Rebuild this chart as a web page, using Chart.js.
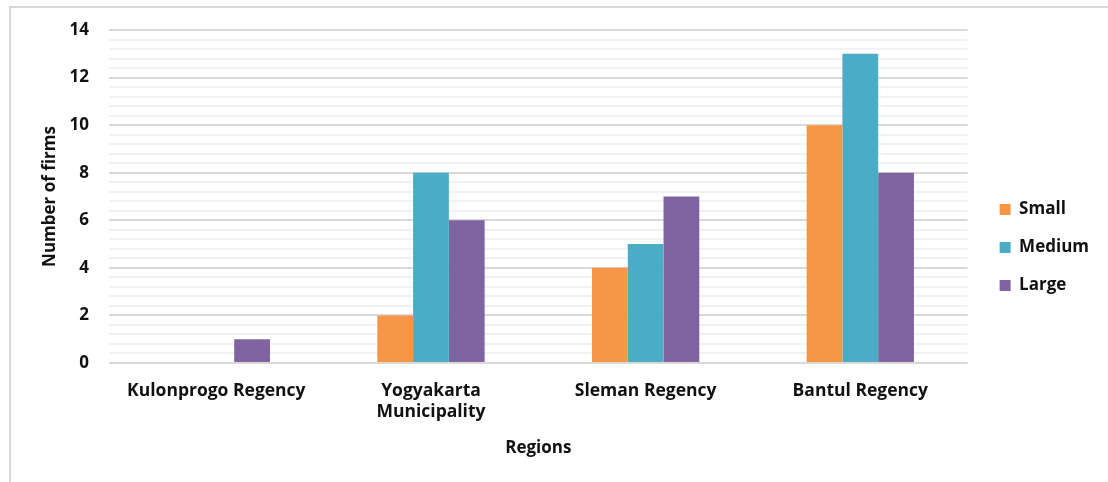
<!DOCTYPE html>
<html>
<head>
<meta charset="utf-8">
<script src="https://cdn.jsdelivr.net/npm/chart.js@4.4.1/dist/chart.umd.min.js"></script>
<style>
  html, body { margin: 0; padding: 0; background: #fff; }
  body { width: 1108px; height: 482px; position: relative; overflow: hidden; }
  #frame {
    position: absolute; left: 9px; top: 6px; width: 1099px; height: 476px;
    border-top: 2px solid #d9d9d9; border-left: 2px solid #d9d9d9;
    box-sizing: border-box;
  }
  #wrap { position: absolute; left: 11px; top: 8px; width: 1097px; height: 474px; }
</style>
</head>
<body>
<div id="frame"></div>
<div id="wrap"><canvas id="firmChart"></canvas></div>
<script>
/* ===== firms by region and size ===== */
const regions = ['Kulonprogo Regency', ['Yogyakarta', 'Municipality'], 'Sleman Regency', 'Bantul Regency'];
const smallFirms = [0, 2, 4, 10];
const mediumFirms = [0, 8, 5, 13];
const largeFirms = [1, 6, 7, 8];

const FONT = 'Open Sans';
const isMajor = v => Math.abs(v / 2 - Math.round(v / 2)) < 1e-6;

Chart.defaults.font.family = FONT;
Chart.defaults.color = '#111';

new Chart(document.getElementById('firmChart').getContext('2d'), {
  type: 'bar',
  data: {
    labels: regions,
    datasets: [
      { label: 'Small', data: smallFirms, backgroundColor: '#F79646' },
      { label: 'Medium', data: mediumFirms, backgroundColor: '#4BACC6' },
      { label: 'Large', data: largeFirms, backgroundColor: '#8064A2' }
    ]
  },
  options: {
    responsive: true,
    maintainAspectRatio: false,
    animation: false,
    categoryPercentage: 0.5,
    barPercentage: 1,
    layout: { padding: { left: 29, right: 9, top: 22, bottom: 20 } },
    plugins: {
      legend: {
        position: 'right',
        align: 'center',
        // tiny empty title, nudges the items slightly down
        title: { display: true, text: ' ', font: { size: 1 }, padding: 1 },
        labels: {
          boxWidth: 11,
          boxHeight: 11,
          padding: 21,
          font: { size: 17, weight: 'bold' }
        }
      },
      tooltip: { enabled: false }
    },
    scales: {
      x: {
        grid: { display: false },
        border: { display: false },
        ticks: { padding: 10, font: { size: 17.5, weight: 'bold' } },
        title: { display: true, text: 'Regions', font: { size: 17, weight: 'bold' }, padding: { top: 8, bottom: 4 } },
        afterFit: s => { s.height = 99; }
      },
      y: {
        min: 0,
        max: 14,
        border: { display: false },
        grid: {
          drawTicks: false,
          lineWidth: 2,
          color: ctx => isMajor(ctx.tick.value) ? '#d9d9d9' : '#f2f2f2'
        },
        ticks: {
          stepSize: 0.4,
          autoSkip: false,
          padding: 20,
          font: { size: 17, weight: 'bold' },
          callback: v => isMajor(v) ? Math.round(v) : ''
        },
        title: { display: true, text: 'Number of firms', font: { size: 17, weight: 'bold' }, padding: { top: 0, bottom: 0 } },
        afterFit: s => { s.width = 69; s.paddingTop = 0; s.paddingBottom = 0; }
      },
      // empty spacer between plot and legend
      gap: {
        type: 'linear',
        position: 'right',
        grid: { display: false },
        border: { display: false },
        ticks: { display: false },
        afterFit: s => { s.width = 11; }
      }
    }
  }
});
</script>
</body>
</html>
